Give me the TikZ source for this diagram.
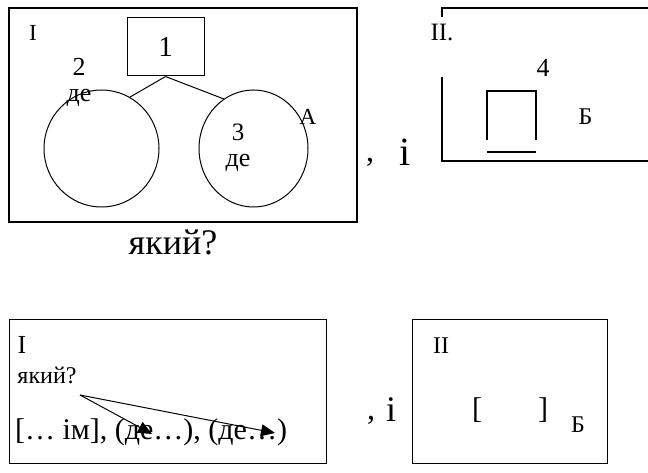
\documentclass[tikz,border=0pt]{standalone}
\usepackage{fontspec}
\setmainfont{Liberation Serif}
\usetikzlibrary{arrows.meta,shapes.geometric}
\newcommand{\fsz}[1]{\fontsize{#1}{#1}\selectfont}
\tikzset{
  txt/.style={inner sep=0pt, anchor=center},
  frame/.style={line width=1.3pt},
  thin/.style={line width=1pt},
}
\begin{document}
\begin{tikzpicture}[x=1pt, y=-1pt]
    \useasboundingbox (0,0) rectangle (648,473);
    % first scheme
    \draw[frame] (9,8) rectangle (357,222);
    \node[txt] (t1) at (33,33) {\fsz{23}I};
    \node[draw, thin, minimum width=77pt, minimum height=58pt] (b1) at (165.5,47) {\fsz{29}1};
    \node[ellipse, draw, thin, minimum width=115pt, minimum height=117pt] (c2) at (101.5,148.5) {};
    \node[ellipse, draw, thin, minimum width=109pt, minimum height=117pt] (c3) at (253.5,148.5) {};
    \draw[thin] (b1.south) -- (c2.61);
    \draw[thin] (b1.south) -- (c3.121);
    \node[txt] (n2) at (79,67) {\fsz{26}2};
    \node[txt] (d2) at (79,98) {\fsz{26}де};
    \node[txt] (n3) at (238,132) {\fsz{25}3};
    \node[txt] (d3) at (238,163) {\fsz{26}де};
    \node[txt] (la) at (308,117) {\fsz{23}А};
    \node[txt] (q1) at (173,242) {\fsz{36}який?};
    \node[txt] (cm1) at (370,162) {\fsz{32},};
    \node[txt] (i1) at (405,152) {\fsz{40}і};
    % second scheme
    \draw[frame] (442,17) -- (442,8) -- (648,8);
    \draw[frame] (442,77) -- (442,161) -- (648,161);
    \node[txt] (t2) at (442,32) {\fsz{25}II.};
    \node[txt] (n4) at (543,68) {\fsz{26}4};
    \node[txt] (lb1) at (585.5,117) {\fsz{24}Б};
    \draw[frame] (487,140) -- (487,91) -- (536,91) -- (536,140);
    \draw[frame] (487,152) -- (536,152);
    % third scheme
    \draw[thin] (9,319) rectangle (326,463);
    \node[txt] (t3) at (22,345) {\fsz{26}I};
    \node[txt] (q2) at (47,375) {\fsz{24}який?};
    \node[txt] (row) at (151,432) {\fsz{30}[… ім], (де…), (де…)};
    \coordinate (from) at (80,395);
    \coordinate (to1) at (152,434);
    \coordinate (to2) at (275,433);
    \draw[thin, -{Triangle[length=14pt,width=12pt]}] (from) -- (to1);
    \draw[thin, -{Triangle[length=14pt,width=12pt]}] (from) -- (to2);
    \node[txt] (cm2) at (371,420) {\fsz{32},};
    \node[txt] (i2) at (391,410) {\fsz{36}і};
    % fourth scheme
    \draw[thin] (412,319) rectangle (607,463);
    \node[txt] (t4) at (441,346) {\fsz{24}II};
    \node[txt] (lbr) at (477,410) {\fsz{30}[};
    \node[txt] (rbr) at (543,410) {\fsz{30}]};
    \node[txt] (lb2) at (578,425) {\fsz{24}Б};
\end{tikzpicture}
\end{document}
